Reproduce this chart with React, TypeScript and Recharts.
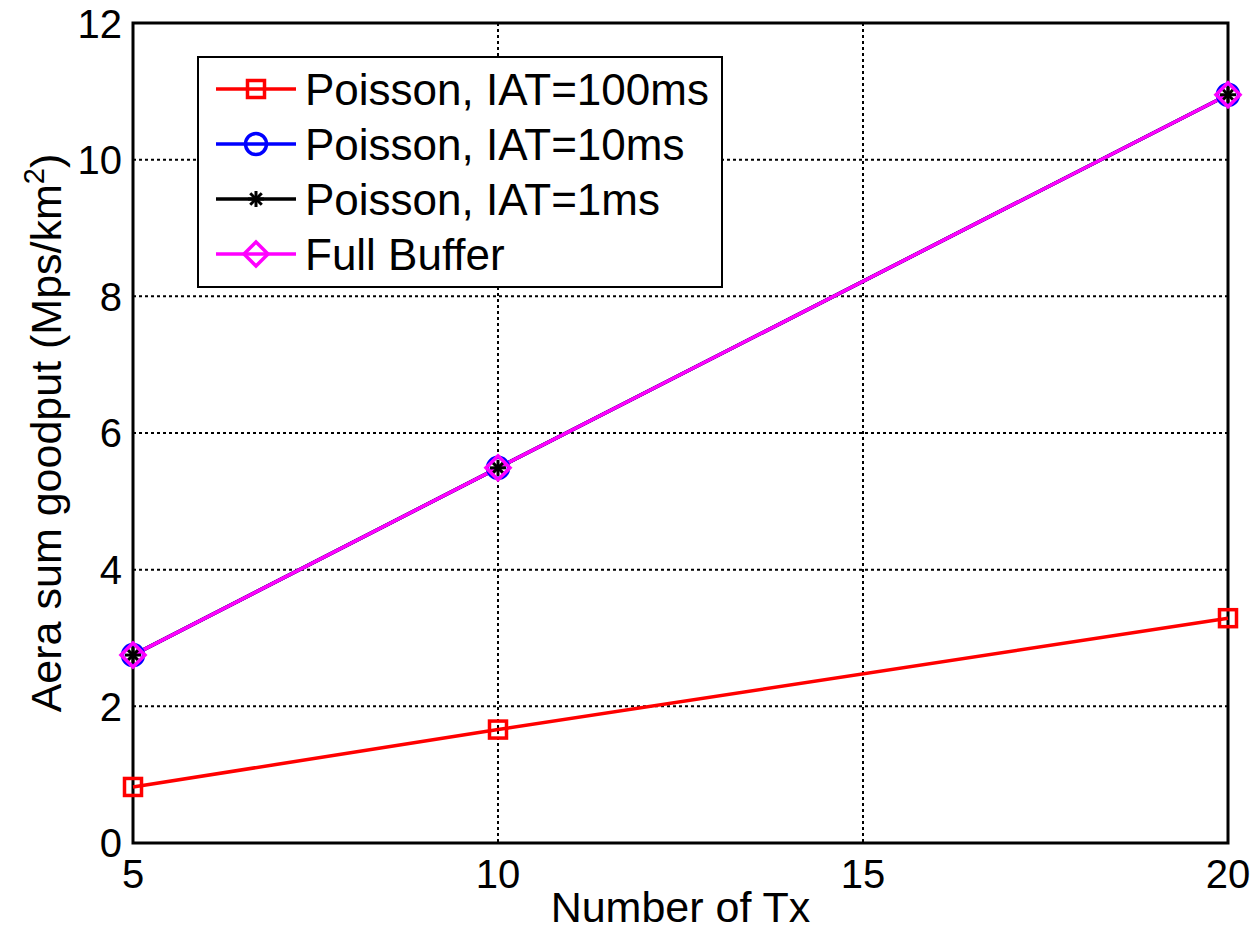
import { LineChart, Line, XAxis, YAxis, CartesianGrid, ReferenceArea } from 'recharts'

const txCounts = [5, 10, 20]
const iat100ms = [0.82, 1.66, 3.29]
const iat10ms = [2.75, 5.49, 10.95]
const iat1ms = [2.75, 5.49, 10.95]
const fullBuffer = [2.75, 5.49, 10.95]
const xTicks = [5, 10, 15, 20]
const yTicks = [0, 2, 4, 6, 8, 10, 12]

const FONT = '"Liberation Sans", Arial, sans-serif'

const data = txCounts.map((tx, i) => ({
  tx,
  iat100: iat100ms[i],
  iat10: iat10ms[i],
  iat1: iat1ms[i],
  full: fullBuffer[i],
}))

type MarkerKind = 'square' | 'circle' | 'star' | 'diamond'

function Marker({ kind, cx, cy, color }: { kind: MarkerKind; cx: number; cy: number; color: string }) {
  if (kind === 'square') {
    return <rect x={cx - 8.5} y={cy - 8.5} width={17} height={17} fill="none" stroke={color} strokeWidth={3.5} />
  }
  if (kind === 'circle') {
    return <circle cx={cx} cy={cy} r={10.5} fill="none" stroke={color} strokeWidth={3.5} />
  }
  if (kind === 'diamond') {
    const s = 12
    return (
      <polygon
        points={`${cx},${cy - s} ${cx + s},${cy} ${cx},${cy + s} ${cx - s},${cy}`}
        fill="none"
        stroke={color}
        strokeWidth={3.5}
      />
    )
  }
  // matlab-style '*': a plus and a cross laid over each other
  const r = 8
  const d = r * 0.72
  return (
    <g stroke={color} strokeWidth={3}>
      <line x1={cx} y1={cy - r} x2={cx} y2={cy + r} />
      <line x1={cx - r} y1={cy} x2={cx + r} y2={cy} />
      <line x1={cx - d} y1={cy - d} x2={cx + d} y2={cy + d} />
      <line x1={cx - d} y1={cy + d} x2={cx + d} y2={cy - d} />
    </g>
  )
}

const series: { key: string; name: string; color: string; marker: MarkerKind }[] = [
  { key: 'iat100', name: 'Poisson, IAT=100ms', color: '#ff0000', marker: 'square' },
  { key: 'iat10', name: 'Poisson, IAT=10ms', color: '#0000ff', marker: 'circle' },
  { key: 'iat1', name: 'Poisson, IAT=1ms', color: '#000000', marker: 'star' },
  { key: 'full', name: 'Full Buffer', color: '#ff00ff', marker: 'diamond' },
]

function LegendBox() {
  return (
    <svg
      width={526}
      height={232}
      style={{ position: 'absolute', left: 197, top: 56 }}
    >
      <rect x={1} y={1} width={524} height={230} fill="#fff" stroke="#000" strokeWidth={2} />
      {series.map((s, i) => {
        const y = 33 + i * 55
        return (
          <g key={s.key}>
            <line x1={19} y1={y} x2={99} y2={y} stroke={s.color} strokeWidth={3.5} />
            <Marker kind={s.marker} cx={59} cy={y} color={s.color} />
            <text x={108} y={y} dy="0.36em" fontSize={44} fontFamily={FONT} fill="#000">
              {s.name}
            </text>
          </g>
        )
      })}
    </svg>
  )
}

export default function App() {
  return (
    <div style={{ position: 'absolute', left: 0, top: 0, width: 1250, height: 940, background: '#fff' }}>
      <LineChart
        width={1250}
        height={940}
        data={data}
        margin={{ top: 23, right: 22, left: 0, bottom: 0 }}
      >
        <CartesianGrid stroke="#000" strokeWidth={2} strokeDasharray="3 3" />
        <XAxis
          dataKey="tx"
          type="number"
          domain={[5, 20]}
          ticks={xTicks}
          height={97}
          axisLine={false}
          tickLine={false}
          tickSize={6}
          tickMargin={11}
          tick={{ fill: '#000', fontSize: 40, fontFamily: FONT }}
          label={{
            content: ({ viewBox }: any) => (
              <text
                x={viewBox.x + viewBox.width / 2}
                y={viewBox.y + 79}
                textAnchor="middle"
                fontSize={43}
                fontFamily={FONT}
                fill="#000"
              >
                Number of Tx
              </text>
            ),
          }}
        />
        <YAxis
          type="number"
          domain={[0, 12]}
          ticks={yTicks}
          width={133}
          axisLine={false}
          tickLine={false}
          tickSize={6}
          tickMargin={5}
          tick={{ fill: '#000', fontSize: 40, fontFamily: FONT }}
          label={{
            content: ({ viewBox }: any) => {
              const cx = 61
              const cy = viewBox.y + viewBox.height / 2
              return (
                <text
                  x={cx}
                  y={cy}
                  textAnchor="middle"
                  transform={`rotate(-90, ${cx}, ${cy})`}
                  fontSize={43}
                  fontFamily={FONT}
                  fill="#000"
                >
                  Aera sum goodput (Mps/km
                  <tspan fontSize={29} dy={-17}>2</tspan>
                  <tspan dy={17}>)</tspan>
                </text>
              )
            },
          }}
        />
        <ReferenceArea x1={5} x2={20} y1={0} y2={12} fill="none" stroke="#000" strokeWidth={3} ifOverflow="visible" />
        {series.map((s) => (
          <Line
            key={s.key}
            dataKey={s.key}
            name={s.name}
            type="linear"
            stroke={s.color}
            strokeWidth={3.5}
            isAnimationActive={false}
            dot={(p: any) => <Marker key={`${s.key}-${p.index}`} kind={s.marker} cx={p.cx} cy={p.cy} color={s.color} />}
            activeDot={false}
          />
        ))}
      </LineChart>
      <LegendBox />
    </div>
  )
}
